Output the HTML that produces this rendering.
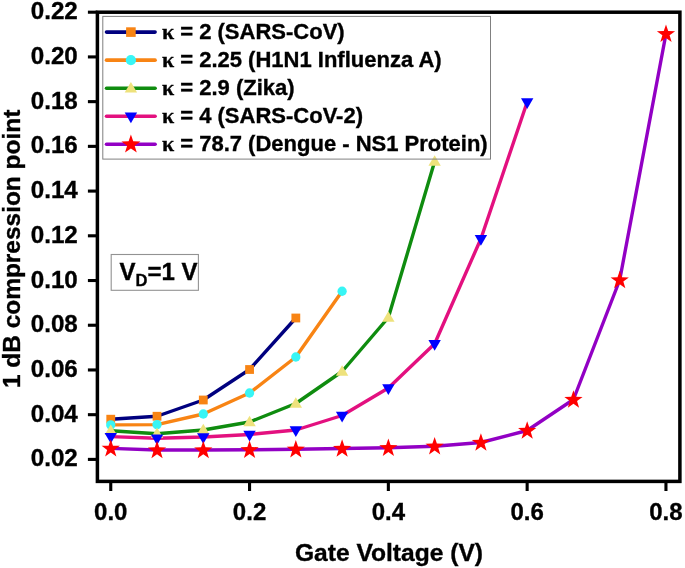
<!DOCTYPE html>
<html><head><meta charset="utf-8"><title>1 dB compression point vs Gate Voltage</title>
<style>
html,body{margin:0;padding:0;background:#fff;}
svg{display:block;will-change:transform;}
text{font-family:"Liberation Sans",Arial,Helvetica,sans-serif;font-weight:bold;fill:#000;stroke:#000;stroke-width:0.35px;}
.k{font-family:"Liberation Serif","Times New Roman",serif;font-weight:bold;}
</style></head><body>
<svg width="685" height="568" viewBox="0 0 685 568">
<rect width="685" height="568" fill="#fff"/>
<rect x="102.8" y="16.4" width="387.7" height="142.7" fill="#fff" stroke="none"/>
<rect x="111.2" y="254.5" width="87.2" height="35.8" fill="#fff" stroke="#929292" stroke-width="1.1"/>
<text x="119.6" y="279.5" font-size="24">V<tspan font-size="16.5" dy="6.5">D</tspan><tspan dy="-6.5">=1 V</tspan></text>
<line x1="106.5" y1="32.10" x2="155.1" y2="32.10" stroke="#00007f" stroke-width="3.6" stroke-linecap="round"/>
<rect x="126.10" y="27.30" width="9.6" height="9.6" fill="#f88414"/>
<text x="161.9" y="38.75" font-size="22.0"><tspan class="k">κ</tspan> = 2 (SARS-CoV)</text>
<line x1="106.5" y1="60.15" x2="155.1" y2="60.15" stroke="#f88414" stroke-width="3.6" stroke-linecap="round"/>
<circle cx="130.90" cy="60.15" r="5.1" fill="#38f5f5"/>
<text x="161.9" y="66.91" font-size="22.0"><tspan class="k">κ</tspan> = 2.25 (H1N1 Influenza A)</text>
<line x1="106.5" y1="88.20" x2="155.1" y2="88.20" stroke="#0f8c0f" stroke-width="3.6" stroke-linecap="round"/>
<polygon points="124.70,92.50 137.10,92.50 130.90,81.90" fill="#eee27c"/>
<text x="161.9" y="95.07" font-size="22.0"><tspan class="k">κ</tspan> = 2.9 (Zika)</text>
<line x1="106.5" y1="116.25" x2="155.1" y2="116.25" stroke="#e3107f" stroke-width="3.6" stroke-linecap="round"/>
<polygon points="124.70,112.55 137.10,112.55 130.90,123.15" fill="#0000ff"/>
<text x="161.9" y="123.23" font-size="22.0"><tspan class="k">κ</tspan> = 4 (SARS-CoV-2)</text>
<line x1="106.5" y1="144.30" x2="155.1" y2="144.30" stroke="#9200c4" stroke-width="3.6" stroke-linecap="round"/>
<polygon points="130.90,134.50 133.22,141.30 140.41,141.41 134.66,145.72 136.78,152.59 130.90,148.45 125.02,152.59 127.14,145.72 121.39,141.41 128.58,141.30" fill="#ff0000"/>
<text x="161.9" y="151.39" font-size="22.0"><tspan class="k">κ</tspan> = 78.7 (Dengue - NS1 Protein)</text>
<polyline points="110.75,419.20 157.02,416.25 203.29,400.00 249.56,369.50 295.83,318.00" fill="none" stroke="#00007f" stroke-width="3.4" stroke-linejoin="round" stroke-linecap="round"/>
<polyline points="110.75,424.90 157.02,424.60 203.29,414.00 249.56,393.00 295.83,357.00 342.10,291.25" fill="none" stroke="#f88414" stroke-width="3.4" stroke-linejoin="round" stroke-linecap="round"/>
<polyline points="110.75,430.75 157.02,433.75 203.29,430.00 249.56,422.00 295.83,403.50 342.10,371.50 388.37,317.50 434.64,161.50" fill="none" stroke="#0f8c0f" stroke-width="3.4" stroke-linejoin="round" stroke-linecap="round"/>
<polyline points="110.75,436.60 157.02,438.25 203.29,437.00 249.56,434.50 295.83,430.00 342.10,415.50 388.37,388.00 434.64,343.75 480.91,238.75 527.18,102.00" fill="none" stroke="#e3107f" stroke-width="3.4" stroke-linejoin="round" stroke-linecap="round"/>
<polyline points="110.75,448.40 157.02,450.00 203.29,450.00 249.56,449.75 295.83,449.25 342.10,448.50 388.37,447.75 434.64,446.25 480.91,442.50 527.18,430.50 573.45,399.50 619.72,280.00 665.99,33.75" fill="none" stroke="#9200c4" stroke-width="3.4" stroke-linejoin="round" stroke-linecap="round"/>
<rect x="106.35" y="414.80" width="8.8" height="8.8" fill="#f88414"/>
<rect x="152.62" y="411.85" width="8.8" height="8.8" fill="#f88414"/>
<rect x="198.89" y="395.60" width="8.8" height="8.8" fill="#f88414"/>
<rect x="245.16" y="365.10" width="8.8" height="8.8" fill="#f88414"/>
<rect x="291.43" y="313.60" width="8.8" height="8.8" fill="#f88414"/>
<circle cx="110.75" cy="424.90" r="4.65" fill="#38f5f5"/>
<circle cx="157.02" cy="424.60" r="4.65" fill="#38f5f5"/>
<circle cx="203.29" cy="414.00" r="4.65" fill="#38f5f5"/>
<circle cx="249.56" cy="393.00" r="4.65" fill="#38f5f5"/>
<circle cx="295.83" cy="357.00" r="4.65" fill="#38f5f5"/>
<circle cx="342.10" cy="291.25" r="4.65" fill="#38f5f5"/>
<polygon points="104.55,435.05 116.95,435.05 110.75,424.45" fill="#eee27c"/>
<polygon points="150.82,438.05 163.22,438.05 157.02,427.45" fill="#eee27c"/>
<polygon points="197.09,434.30 209.49,434.30 203.29,423.70" fill="#eee27c"/>
<polygon points="243.36,426.30 255.76,426.30 249.56,415.70" fill="#eee27c"/>
<polygon points="289.63,407.80 302.03,407.80 295.83,397.20" fill="#eee27c"/>
<polygon points="335.90,375.80 348.30,375.80 342.10,365.20" fill="#eee27c"/>
<polygon points="382.17,321.80 394.57,321.80 388.37,311.20" fill="#eee27c"/>
<polygon points="428.44,165.80 440.84,165.80 434.64,155.20" fill="#eee27c"/>
<polygon points="104.55,432.90 116.95,432.90 110.75,443.50" fill="#0000ff"/>
<polygon points="150.82,434.55 163.22,434.55 157.02,445.15" fill="#0000ff"/>
<polygon points="197.09,433.30 209.49,433.30 203.29,443.90" fill="#0000ff"/>
<polygon points="243.36,430.80 255.76,430.80 249.56,441.40" fill="#0000ff"/>
<polygon points="289.63,426.30 302.03,426.30 295.83,436.90" fill="#0000ff"/>
<polygon points="335.90,411.80 348.30,411.80 342.10,422.40" fill="#0000ff"/>
<polygon points="382.17,384.30 394.57,384.30 388.37,394.90" fill="#0000ff"/>
<polygon points="428.44,340.05 440.84,340.05 434.64,350.65" fill="#0000ff"/>
<polygon points="474.71,235.05 487.11,235.05 480.91,245.65" fill="#0000ff"/>
<polygon points="520.98,98.30 533.38,98.30 527.18,108.90" fill="#0000ff"/>
<polygon points="110.75,439.20 112.98,445.73 119.88,445.83 114.36,449.97 116.39,456.57 110.75,452.60 105.11,456.57 107.14,449.97 101.62,445.83 108.52,445.73" fill="#ff0000"/>
<polygon points="157.02,440.80 159.25,447.33 166.15,447.43 160.63,451.57 162.66,458.17 157.02,454.20 151.38,458.17 153.41,451.57 147.89,447.43 154.79,447.33" fill="#ff0000"/>
<polygon points="203.29,440.80 205.52,447.33 212.42,447.43 206.90,451.57 208.93,458.17 203.29,454.20 197.65,458.17 199.68,451.57 194.16,447.43 201.06,447.33" fill="#ff0000"/>
<polygon points="249.56,440.55 251.79,447.08 258.69,447.18 253.17,451.32 255.20,457.92 249.56,453.95 243.92,457.92 245.95,451.32 240.43,447.18 247.33,447.08" fill="#ff0000"/>
<polygon points="295.83,440.05 298.06,446.58 304.96,446.68 299.44,450.82 301.47,457.42 295.83,453.45 290.19,457.42 292.22,450.82 286.70,446.68 293.60,446.58" fill="#ff0000"/>
<polygon points="342.10,439.30 344.33,445.83 351.23,445.93 345.71,450.07 347.74,456.67 342.10,452.70 336.46,456.67 338.49,450.07 332.97,445.93 339.87,445.83" fill="#ff0000"/>
<polygon points="388.37,438.55 390.60,445.08 397.50,445.18 391.98,449.32 394.01,455.92 388.37,451.95 382.73,455.92 384.76,449.32 379.24,445.18 386.14,445.08" fill="#ff0000"/>
<polygon points="434.64,437.05 436.87,443.58 443.77,443.68 438.25,447.82 440.28,454.42 434.64,450.45 429.00,454.42 431.03,447.82 425.51,443.68 432.41,443.58" fill="#ff0000"/>
<polygon points="480.91,433.30 483.14,439.83 490.04,439.93 484.52,444.07 486.55,450.67 480.91,446.70 475.27,450.67 477.30,444.07 471.78,439.93 478.68,439.83" fill="#ff0000"/>
<polygon points="527.18,421.30 529.41,427.83 536.31,427.93 530.79,432.07 532.82,438.67 527.18,434.70 521.54,438.67 523.57,432.07 518.05,427.93 524.95,427.83" fill="#ff0000"/>
<polygon points="573.45,390.30 575.68,396.83 582.58,396.93 577.06,401.07 579.09,407.67 573.45,403.70 567.81,407.67 569.84,401.07 564.32,396.93 571.22,396.83" fill="#ff0000"/>
<polygon points="619.72,270.80 621.95,277.33 628.85,277.43 623.33,281.57 625.36,288.17 619.72,284.20 614.08,288.17 616.11,281.57 610.59,277.43 617.49,277.33" fill="#ff0000"/>
<polygon points="665.99,24.55 668.22,31.08 675.12,31.18 669.60,35.32 671.63,41.92 665.99,37.95 660.35,41.92 662.38,35.32 656.86,31.18 663.76,31.08" fill="#ff0000"/>
<rect x="102.8" y="16.4" width="387.7" height="142.7" fill="none" stroke="#808080" stroke-width="1.0"/>
<rect x="97.4" y="12.2" width="582.5" height="469.2" fill="none" stroke="#000" stroke-width="3.5"/>
<line x1="87.9" y1="459.40" x2="97.4" y2="459.40" stroke="#000" stroke-width="3.1"/>
<text x="77.8" y="466.45" font-size="24.2" text-anchor="end">0.02</text>
<line x1="87.9" y1="414.68" x2="97.4" y2="414.68" stroke="#000" stroke-width="3.1"/>
<text x="77.8" y="421.73" font-size="24.2" text-anchor="end">0.04</text>
<line x1="87.9" y1="369.96" x2="97.4" y2="369.96" stroke="#000" stroke-width="3.1"/>
<text x="77.8" y="377.01" font-size="24.2" text-anchor="end">0.06</text>
<line x1="87.9" y1="325.24" x2="97.4" y2="325.24" stroke="#000" stroke-width="3.1"/>
<text x="77.8" y="332.29" font-size="24.2" text-anchor="end">0.08</text>
<line x1="87.9" y1="280.52" x2="97.4" y2="280.52" stroke="#000" stroke-width="3.1"/>
<text x="77.8" y="287.57" font-size="24.2" text-anchor="end">0.10</text>
<line x1="87.9" y1="235.80" x2="97.4" y2="235.80" stroke="#000" stroke-width="3.1"/>
<text x="77.8" y="242.85" font-size="24.2" text-anchor="end">0.12</text>
<line x1="87.9" y1="191.08" x2="97.4" y2="191.08" stroke="#000" stroke-width="3.1"/>
<text x="77.8" y="198.13" font-size="24.2" text-anchor="end">0.14</text>
<line x1="87.9" y1="146.36" x2="97.4" y2="146.36" stroke="#000" stroke-width="3.1"/>
<text x="77.8" y="153.41" font-size="24.2" text-anchor="end">0.16</text>
<line x1="87.9" y1="101.64" x2="97.4" y2="101.64" stroke="#000" stroke-width="3.1"/>
<text x="77.8" y="108.69" font-size="24.2" text-anchor="end">0.18</text>
<line x1="87.9" y1="56.92" x2="97.4" y2="56.92" stroke="#000" stroke-width="3.1"/>
<text x="77.8" y="63.97" font-size="24.2" text-anchor="end">0.20</text>
<line x1="87.9" y1="12.20" x2="97.4" y2="12.20" stroke="#000" stroke-width="3.1"/>
<text x="77.8" y="19.25" font-size="24.2" text-anchor="end">0.22</text>
<line x1="110.75" y1="481.4" x2="110.75" y2="491.0" stroke="#000" stroke-width="3.1"/>
<text x="110.75" y="520" font-size="24" text-anchor="middle">0.0</text>
<line x1="249.55" y1="481.4" x2="249.55" y2="491.0" stroke="#000" stroke-width="3.1"/>
<text x="249.55" y="520" font-size="24" text-anchor="middle">0.2</text>
<line x1="388.35" y1="481.4" x2="388.35" y2="491.0" stroke="#000" stroke-width="3.1"/>
<text x="388.35" y="520" font-size="24" text-anchor="middle">0.4</text>
<line x1="527.15" y1="481.4" x2="527.15" y2="491.0" stroke="#000" stroke-width="3.1"/>
<text x="527.15" y="520" font-size="24" text-anchor="middle">0.6</text>
<line x1="665.95" y1="481.4" x2="665.95" y2="491.0" stroke="#000" stroke-width="3.1"/>
<text x="665.95" y="520" font-size="24" text-anchor="middle">0.8</text>
<text x="389" y="560.8" font-size="24.6" text-anchor="middle">Gate Voltage (V)</text>
<text transform="translate(20.1,248.9) rotate(-90)" font-size="24.45" text-anchor="middle">1 dB compression point</text>
</svg></body></html>
